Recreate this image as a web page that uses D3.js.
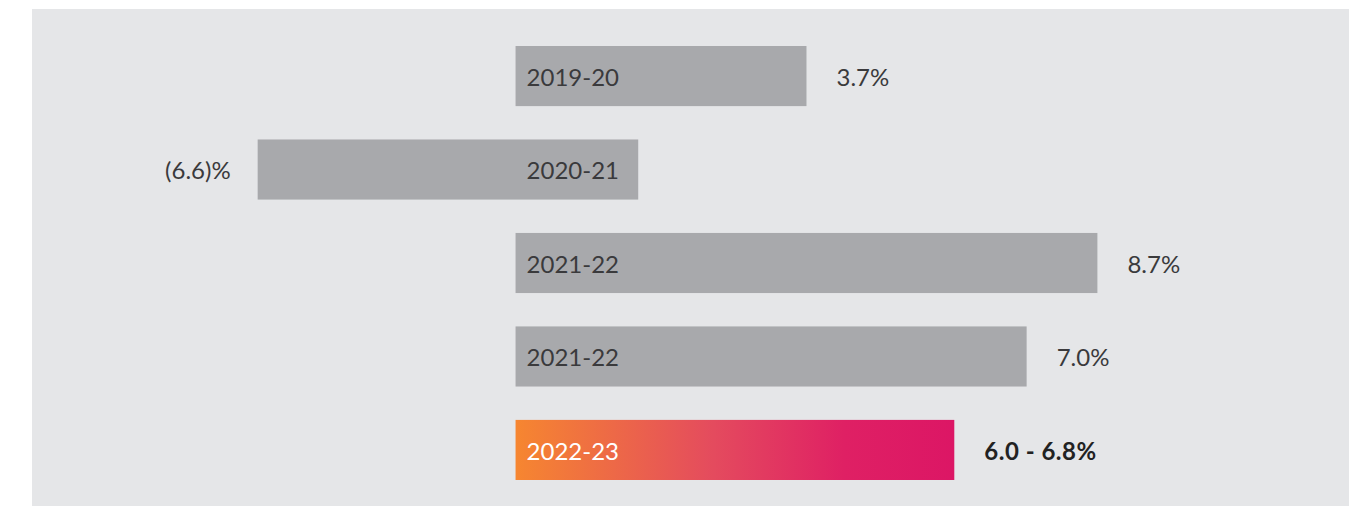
<!DOCTYPE html>
<html>
<head>
<meta charset="utf-8">
<script src="https://cdn.jsdelivr.net/npm/d3@7"></script>
<style>
  body { margin: 0; background: #fff; }
  svg text { font-family: Lato, "Noto Sans", sans-serif; }
</style>
</head>
<body>
<div id="chart"></div>
<script>
// rows of the chart, top to bottom
const years = ['2019-20', '2020-21', '2021-22', '2021-22', '2022-23'];
const valueLabels = ['3.7%', '(6.6)%', '8.7%', '7.0%', '6.0 - 6.8%'];
// bar extents as drawn in the picture (the source is not to scale)
const barFrom = [0, -3.28, 0, 0, 0];
const barTo = [3.7, 1.56, 7.4, 6.5, 5.58];
const highlight = [false, false, false, false, true];

const width = 1358;
const height = 506;

const rows = years.map((y, i) => ({
    year: y,
    label: valueLabels[i],
    from: barFrom[i],
    to: barTo[i],
    hot: highlight[i],
    neg: valueLabels[i].startsWith('('),
}));

const svg = d3.select('#chart').append('svg')
    .attr('width', width)
    .attr('height', height);

const xScale = d3.scaleLinear()
    .domain([-6.15, 10.6])
    .range([32, 1349]);

const yScale = d3.scaleBand()
    .domain(d3.range(rows.length))
    .range([46, 480])
    .paddingInner(0.357)
    .paddingOuter(0);

// panel background
svg.append('rect')
    .attr('x', xScale(-6.15))
    .attr('y', 9)
    .attr('width', xScale(10.6) - xScale(-6.15))
    .attr('height', height - 9)
    .attr('fill', '#e5e6e8');

const grad = svg.append('defs').append('linearGradient')
    .attr('id', 'hotGrad')
    .attr('x1', '0%').attr('x2', '100%')
    .attr('y1', '0%').attr('y2', '0%');
grad.append('stop').attr('offset', '0%').attr('stop-color', '#f68630');
grad.append('stop').attr('offset', '45%').attr('stop-color', '#e44b5e');
grad.append('stop').attr('offset', '75%').attr('stop-color', '#df2064');
grad.append('stop').attr('offset', '100%').attr('stop-color', '#dc1665');

const g = svg.append('g');

g.selectAll('rect.bar')
    .data(rows)
    .join('rect')
    .attr('class', 'bar')
    .attr('x', d => xScale(Math.min(d.from, d.to)))
    .attr('y', (d, i) => yScale(i))
    .attr('width', d => Math.abs(xScale(d.to) - xScale(d.from)))
    .attr('height', yScale.bandwidth())
    .attr('fill', d => d.hot ? 'url(#hotGrad)' : '#a8a9ac');

// year labels inside bars
g.selectAll('text.year')
    .data(rows)
    .join('text')
    .attr('class', 'year')
    .attr('x', xScale(0) + 11)
    .attr('y', (d, i) => yScale(i) + yScale.bandwidth() / 2 + 1)
    .attr('dy', '0.36em')
    .attr('font-size', 24)
    .attr('fill', d => d.hot ? '#fff' : '#3a3a3c')
    .text(d => d.year);

// value labels beside bars
g.selectAll('text.value')
    .data(rows)
    .join('text')
    .attr('class', 'value')
    .attr('x', d => d.neg ? xScale(Math.min(d.from, d.to)) - 27 : xScale(d.to) + 30)
    .attr('y', (d, i) => yScale(i) + yScale.bandwidth() / 2 + 1)
    .attr('dy', '0.36em')
    .attr('text-anchor', d => d.neg ? 'end' : 'start')
    .attr('font-size', 24)
    .attr('font-weight', d => d.hot ? 700 : 400)
    .attr('letter-spacing', d => d.hot ? 0.5 : 0)
    .attr('fill', d => d.hot ? '#222' : '#3a3a3c')
    .text(d => d.label);
</script>
</body>
</html>
